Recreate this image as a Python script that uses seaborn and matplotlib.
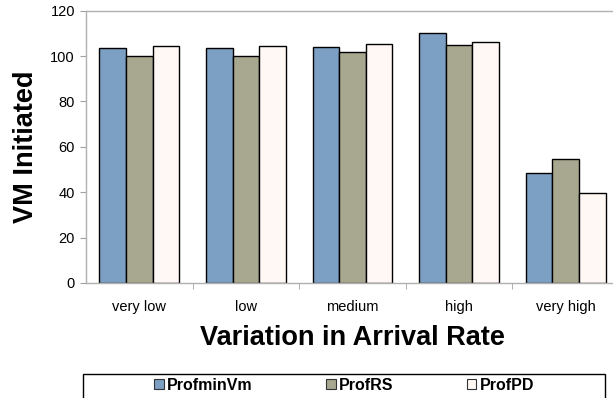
import matplotlib
matplotlib.use("Agg")
import matplotlib.pyplot as plt
from matplotlib.patches import Rectangle
from matplotlib.ticker import FixedLocator
import seaborn as sns
import pandas as pd

categories = ["very low", "low", "medium", "high", "very high"]
series_names = ["ProfminVm", "ProfRS", "ProfPD"]
prof_minvm = [103.7, 103.7, 104.0, 110.3, 48.3]
prof_rs = [100.0, 100.0, 101.7, 104.7, 54.5]
prof_pd = [104.6, 104.6, 105.3, 106.1, 39.5]
y_ticks = [0, 20, 40, 60, 80, 100, 120]

colors = ["#7ba0c4", "#a8a891", "#fff8f5"]

df = pd.DataFrame({
    "category": categories * 3,
    "series": [s for s in series_names for _ in categories],
    "value": prof_minvm + prof_rs + prof_pd,
})

sns.set_style("white")
plt.rcParams["font.family"] = ["Liberation Sans", "DejaVu Sans"]
plt.rcParams["text.color"] = "black"
plt.rcParams["axes.labelcolor"] = "black"
plt.rcParams["xtick.color"] = "black"
plt.rcParams["ytick.color"] = "black"

fig = plt.figure(figsize=(6.13, 3.98), dpi=100)
ax = fig.add_axes([86 / 613, 1 - 283 / 398, 533 / 613, (283 - 10.7) / 398])

sns.barplot(data=df, x="category", y="value", hue="series",
            order=categories, hue_order=series_names,
            palette=colors, width=0.75, edgecolor="black", linewidth=1.0,
            saturation=1, ax=ax, legend=False)

ax.set_xlim(-0.5, len(categories) - 0.5)
ax.set_ylim(0, 120)
ax.set_yticks(y_ticks)
ax.tick_params(axis="y", labelsize=10.5, length=4, color="#a0a0a0", labelcolor="black",
               pad=4, direction="out", left=True)
ax.tick_params(axis="x", which="major", length=0, labelsize=10.5, labelcolor="black", pad=12)
ax.xaxis.set_minor_locator(FixedLocator([i + 0.5 for i in range(len(categories) - 1)]))
ax.tick_params(axis="x", which="minor", length=4, color="#a0a0a0",
               direction="out", bottom=True)

for side in ["left", "bottom", "top"]:
    ax.spines[side].set_visible(True)
    ax.spines[side].set_color("#b0b0b0")
    ax.spines[side].set_linewidth(1.0)
ax.spines["right"].set_visible(False)

ax.set_xlabel("Variation in Arrival Rate", fontsize=19.5, fontweight="bold",
              labelpad=8, color="black")
ax.set_ylabel("VM Initiated", fontsize=19.5, fontweight="bold",
              labelpad=8, color="black")

# legend box along the bottom edge
fig.patches.append(Rectangle((83 / 613, -0.05), (605 - 83) / 613, 0.05 + (398 - 374) / 398,
                             transform=fig.transFigure, facecolor="white",
                             edgecolor="black", linewidth=1.0, zorder=1))
handles = [Rectangle((0, 0), 1, 1, facecolor=c, edgecolor="#333333", linewidth=0.8)
           for c in colors]
fig.legend(handles, series_names, loc="center", bbox_to_anchor=(344 / 613, 1 - 385 / 398),
           ncol=3, frameon=False, prop={"weight": "bold", "size": 11.5},
           labelcolor="black",
           handlelength=0.6, handleheight=0.6, handletextpad=0.2, columnspacing=4.6)

fig.savefig("out.png", dpi=100)
